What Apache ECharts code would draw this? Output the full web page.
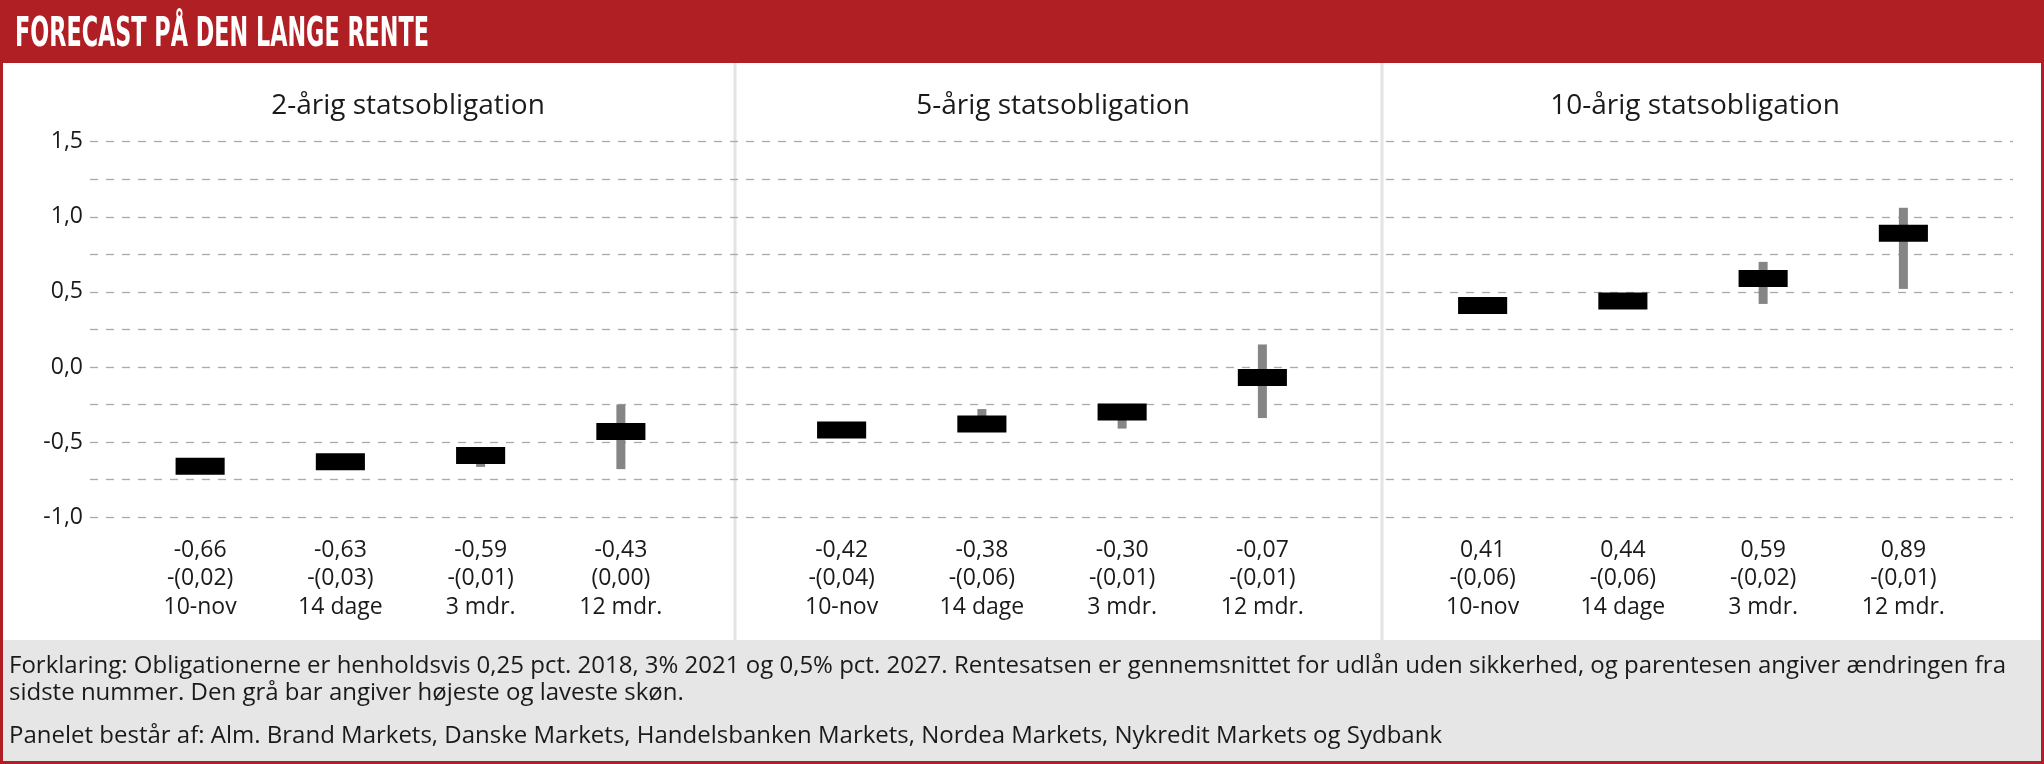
<!DOCTYPE html>
<html><head><meta charset="utf-8">
<script src="https://cdn.jsdelivr.net/npm/echarts@6/dist/echarts.min.js"></script>
<style>html,body{margin:0;padding:0;background:#fff}#c{width:2044px;height:764px}</style>
</head><body><div id="c"></div>
<script>
// ---- data ----
const categories = ['10-nov', '14 dage', '3 mdr.', '12 mdr.'];
const panelTitles = ['2-årig statsobligation', '5-årig statsobligation', '10-årig statsobligation'];

const rate2   = [-0.66, -0.63, -0.59, -0.43];
const change2 = [-0.02, -0.03, -0.01, 0.00];
const low2    = [-0.66, -0.63, -0.665, -0.68];
const high2   = [-0.66, -0.63, -0.56, -0.25];

const rate5   = [-0.42, -0.38, -0.30, -0.07];
const change5 = [-0.04, -0.06, -0.01, -0.01];
const low5    = [-0.42, -0.40, -0.41, -0.34];
const high5   = [-0.42, -0.28, -0.26, 0.15];

const rate10   = [0.41, 0.44, 0.59, 0.89];
const change10 = [-0.06, -0.06, -0.02, -0.01];
const low10    = [0.41, 0.44, 0.42, 0.52];
const high10   = [0.41, 0.44, 0.70, 1.06];

const yTickLabels = ['-1,0', '-0,5', '0,0', '0,5', '1,0', '1,5'];
const titleText = 'FORECAST PÅ DEN LANGE RENTE';
const footerLine1 = 'Forklaring: Obligationerne er henholdsvis 0,25 pct. 2018, 3% 2021 og 0,5% pct. 2027. Rentesatsen er gennemsnittet for udlån uden sikkerhed, og parentesen angiver ændringen fra';
const footerLine2 = 'sidste nummer. Den grå bar angiver højeste og laveste skøn.';
const footerLine3 = 'Panelet består af: Alm. Brand Markets, Danske Markets, Handelsbanken Markets, Nordea Markets, Nykredit Markets og Sydbank';

// ---- helpers ----
const panels = [
  {rate: rate2, change: change2, low: low2, high: high2},
  {rate: rate5, change: change5, low: low5, high: high5},
  {rate: rate10, change: change10, low: low10, high: high10}
];
const fmt = v => v.toFixed(2).replace('.', ',');
const fmtChg = v => (v < 0 ? '-(' + fmt(Math.abs(v)) + ')' : '(' + fmt(Math.abs(v)) + ')');

const RED = '#B01F24';
const FONT = '"Open Sans", "Noto Sans", sans-serif';
const Y_MIN = -1.0, Y_MAX = 1.5;
const GRID_TOP = 141.7, GRID_H = 375.5;

function renderItem(params, api) {
  const x = api.value(0), v = api.value(1), lo = api.value(2), hi = api.value(3);
  const c = api.coord([x, v]);
  const cl = api.coord([x, lo]);
  const ch = api.coord([x, hi]);
  const band = api.size([1, 0])[0];
  const bw = band * 0.35, bh = 17, ww = 9;
  const children = [];
  if (hi > lo) {
    children.push({type: 'rect', shape: {x: c[0] - ww / 2, y: ch[1], width: ww, height: cl[1] - ch[1]},
      style: {fill: '#858585'}});
  }
  children.push({type: 'rect', shape: {x: c[0] - bw / 2, y: c[1] - bh / 2, width: bw, height: bh},
    style: {fill: '#000000'}});
  return {type: 'group', children};
}

const grids = [{left: 90, right: 31, top: GRID_TOP, height: GRID_H}];
const xAxes = [{gridIndex: 0, type: 'value', min: 0, max: 1, show: false}];
const yAxes = [{
  gridIndex: 0, type: 'value', min: Y_MIN, max: Y_MAX, interval: 0.25,
  axisLine: {show: false}, axisTick: {show: false},
  axisLabel: {
    margin: 7, fontFamily: FONT, fontSize: 23, color: '#1a1a1a',
    formatter: v => {
      const idx = Math.round((v - Y_MIN) / 0.5);
      return Math.abs(Y_MIN + idx * 0.5 - v) < 1e-6 ? yTickLabels[idx] : '';
    }
  },
  splitLine: {show: true, lineStyle: {color: '#aaaaaa', width: 1.3, type: [8, 8]}}
}];
const series = [];
const panelLeft = [130, 771.5, 1412.5];
panels.forEach((p, i) => {
  grids.push({left: panelLeft[i], width: 561, top: GRID_TOP, height: GRID_H});
  xAxes.push({
    gridIndex: i + 1, type: 'category', data: categories,
    axisLine: {show: false}, axisTick: {show: false}, splitLine: {show: false},
    axisLabel: {
      margin: 19, fontFamily: FONT, fontSize: 23, lineHeight: 28.5, color: '#1a1a1a', interval: 0,
      formatter: (val, idx) => fmt(p.rate[idx]) + '\n' + fmtChg(p.change[idx]) + '\n' + val
    }
  });
  yAxes.push({gridIndex: i + 1, type: 'value', min: Y_MIN, max: Y_MAX, show: false, splitLine: {show: false}});
  series.push({
    type: 'custom', xAxisIndex: i + 1, yAxisIndex: i + 1, renderItem, z: 5,
    data: categories.map((c, k) => [k, p.rate[k], p.low[k], p.high[k]])
  });
});

// title scaling to condensed look
const TITLE_FONT = 'bold 41px "Liberation Sans Narrow", "DejaVu Sans Condensed", sans-serif';
const mctx = document.createElement('canvas').getContext('2d');
mctx.font = TITLE_FONT;
const titleScale = 414 / mctx.measureText(titleText).width;

const FOOT_FONT = '24px ' + FONT;
const panelCenters = [408, 1053, 1695];
const graphic = [
  {type: 'rect', z: -10, shape: {x: 0, y: 0, width: 2044, height: 63}, style: {fill: RED}},
  {type: 'rect', z: -10, shape: {x: 3, y: 640, width: 2038, height: 121}, style: {fill: '#e6e6e6'}},
  {type: 'rect', z: -10, shape: {x: 733.5, y: 63, width: 3, height: 577}, style: {fill: '#e4e4e4'}},
  {type: 'rect', z: -10, shape: {x: 1380.5, y: 63, width: 3, height: 577}, style: {fill: '#e4e4e4'}},
  {type: 'rect', z: 50, shape: {x: 1.5, y: 1.5, width: 2041, height: 761}, style: {fill: null, stroke: RED, lineWidth: 3}},
  {type: 'text', z: 60, x: 15, y: 35, scaleX: titleScale, originX: 0,
    style: {text: titleText, x: 0, y: 0, fill: '#ffffff', font: TITLE_FONT, textAlign: 'left', align: 'left', textVerticalAlign: 'middle', verticalAlign: 'middle'}},
  {type: 'text', z: 60, style: {text: footerLine1, x: 9, y: 666, fill: '#1a1a1a', font: FOOT_FONT, textAlign: 'left', align: 'left', textVerticalAlign: 'middle', verticalAlign: 'middle'}},
  {type: 'text', z: 60, style: {text: footerLine2, x: 9, y: 693, fill: '#1a1a1a', font: FOOT_FONT, textAlign: 'left', align: 'left', textVerticalAlign: 'middle', verticalAlign: 'middle'}},
  {type: 'text', z: 60, style: {text: footerLine3, x: 9, y: 736, fill: '#1a1a1a', font: FOOT_FONT, textAlign: 'left', align: 'left', textVerticalAlign: 'middle', verticalAlign: 'middle'}}
];
panelTitles.forEach((t, i) => {
  graphic.push({type: 'text', z: 60, style: {text: t, x: panelCenters[i], y: 106, fill: '#1a1a1a', font: '28px ' + FONT,
    textAlign: 'center', align: 'center', textVerticalAlign: 'middle', verticalAlign: 'middle'}});
});

const chart = echarts.init(document.getElementById('c'), null, {renderer: 'canvas', width: 2044, height: 764});
chart.setOption({
  animation: false,
  backgroundColor: '#ffffff',
  grid: grids, xAxis: xAxes, yAxis: yAxes, series, graphic
});
</script></body></html>
